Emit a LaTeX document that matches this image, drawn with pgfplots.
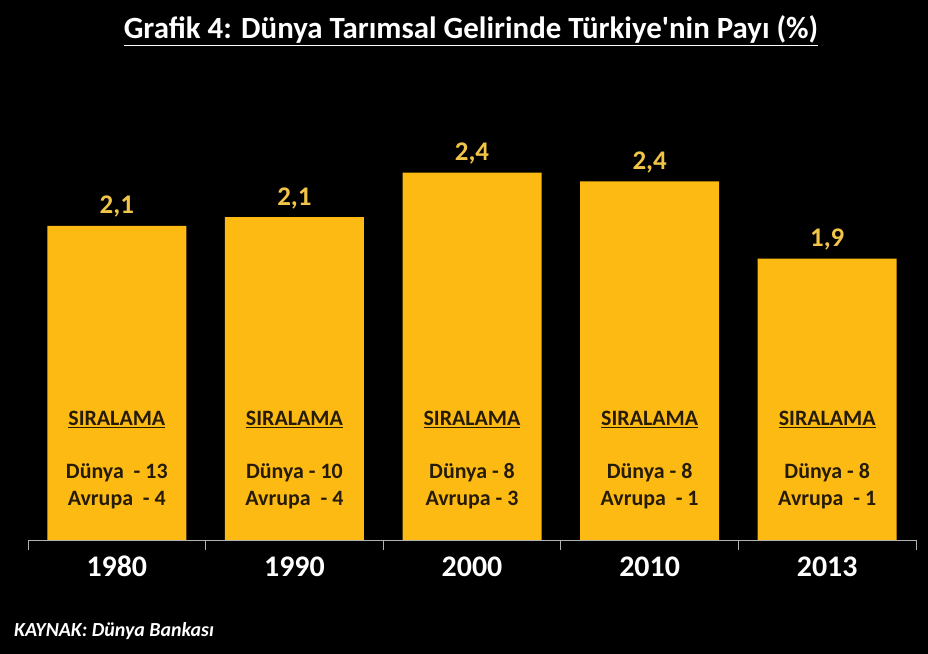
\documentclass[border=0pt]{standalone}
\usepackage{pgfplots}
\pgfplotsset{compat=1.18}
\usepackage{fontspec}
\setmainfont{Carlito}
\newfontfamily\titlefont{Carlito}
\definecolor{baryellow}{RGB}{253,186,19}
\definecolor{valyellow}{RGB}{242,196,72}
\definecolor{darktext}{RGB}{38,28,5}
\tikzset{rank/.style={anchor=base, inner sep=0pt, text=darktext, font=\fontsize{22}{26}\selectfont\bfseries}}
\begin{document}
\begin{tikzpicture}[x=1bp,y=1bp]
\fill[black] (0,0) rectangle (928,654);
\path[use as bounding box] (0,0) rectangle (928,654);
\node[anchor=base, white, font=\titlefont\fontsize{31}{36}\selectfont\bfseries] at (471,615) {\underline{Grafik 4: Dünya Tarımsal Gelirinde Türkiye'nin Payı (\%)}};
\node[anchor=base west, white, font=\fontsize{20}{24}\selectfont\bfseries\itshape, inner sep=0pt] at (14,17) {KAYNAK: Dünya Bankası};
\begin{axis}[
  at={(28bp,114bp)}, anchor=south west,
  scale only axis, width=888bp, height=400bp,
  xmin=-0.5, xmax=4.5, ymin=0, ymax=2.7,
  clip=false,
  axis y line=none,
  axis x line=bottom,
  x axis line style={-, draw=gray!60, line width=0.8pt},
  xtick={0,1,2,3,4},
  xticklabels={1980,1990,2000,2010,2013},
  major tick length=0pt,
  minor xtick={-0.5,0.5,1.5,2.5,3.5,4.5},
  minor tick length=10bp,
  tick align=outside,
  minor tick style={draw=gray!60, line width=0.8pt},
  xticklabel style={anchor=base, yshift=-37bp, inner sep=0pt, text=white, font=\fontsize{30}{34}\selectfont\bfseries},
  ytick=\empty,
]
\addplot[ybar, bar width=139bp, fill=baryellow, draw=none,
  nodes near coords, point meta=explicit symbolic,
  nodes near coords style={anchor=base, inner sep=0pt, yshift=12bp, text=valyellow, font=\fontsize{27}{32}\selectfont\bfseries}]
  table[meta=lab] {
x y lab
0 2.12 2,1
1 2.18 2,1
2 2.48 2,4
3 2.42 2,4
4 1.90 1,9
};
\node[rank] at (axis cs:0,0.77) {\underline{SIRALAMA}};
\node[rank] at (axis cs:0,0.418) {Dünya\ \ - 13};
\node[rank] at (axis cs:0,0.236) {Avrupa\ \ - 4};
\node[rank] at (axis cs:1,0.77) {\underline{SIRALAMA}};
\node[rank] at (axis cs:1,0.418) {Dünya - 10};
\node[rank] at (axis cs:1,0.236) {Avrupa\ \ - 4};
\node[rank] at (axis cs:2,0.77) {\underline{SIRALAMA}};
\node[rank] at (axis cs:2,0.418) {Dünya - 8};
\node[rank] at (axis cs:2,0.236) {Avrupa - 3};
\node[rank] at (axis cs:3,0.77) {\underline{SIRALAMA}};
\node[rank] at (axis cs:3,0.418) {Dünya - 8};
\node[rank] at (axis cs:3,0.236) {Avrupa\ \ - 1};
\node[rank] at (axis cs:4,0.77) {\underline{SIRALAMA}};
\node[rank] at (axis cs:4,0.418) {Dünya - 8};
\node[rank] at (axis cs:4,0.236) {Avrupa\ \ - 1};
\end{axis}
\end{tikzpicture}
\end{document}
